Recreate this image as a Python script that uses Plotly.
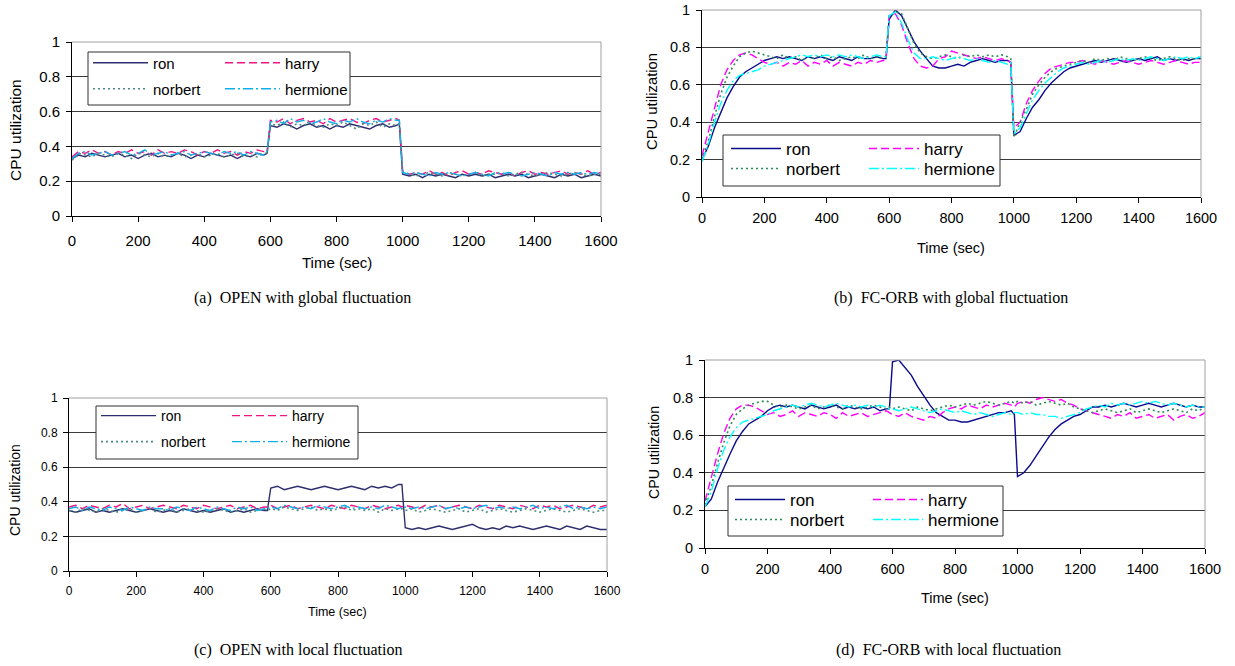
import plotly.graph_objects as go

# ---------------- data (CPU utilization in percent) ----------------
T = list(range(0, 600, 20)) + [590] + list(range(600, 1000, 20)) + [990] + list(range(1000, 1601, 20))

NAMES = ["ron", "harry", "norbert", "hermione"]

# (a) OPEN with global fluctuation
a_ron = [33,35,34,36,35,34,35,36,34,35,33,35,36,34,35,34,36,35,33,35,34,36,35,34,35,33,35,34,36,35] + [36] + \
        [52,51,53,52,50,52,53,51,52,50,52,51,53,52,51,50,52,53,51,52] + [53] + \
        [24,23,24,22,24,23,24,23,22,24,23,24,23,24,22,23,24,23,24,22,23,24,23,22,24,23,24,22,23,24,23]
a_harry = [34,37,36,38,36,37,35,37,36,38,36,37,35,38,36,37,36,38,37,35,37,36,38,36,37,35,37,36,38,37] + [37] + \
          [55,54,56,53,55,56,54,55,53,56,54,55,56,54,53,55,56,54,55,56] + [55] + \
          [26,24,25,24,26,24,25,23,25,26,24,25,24,26,25,24,25,23,25,26,24,25,24,25,26,24,25,24,26,24,25]
a_norbert = [32,36,35,34,36,35,34,36,35,33,36,35,34,36,34,35,36,34,35,36,34,35,36,34,35,36,34,35,34,36] + [36] + \
            [53,52,54,51,53,52,54,52,51,53,52,54,52,50,53,52,54,51,53,52] + [53] + \
            [25,24,23,24,25,24,23,25,24,23,24,25,23,24,24,25,23,24,25,24,23,24,25,24,23,24,25,24,23,24,24]
a_hermione = [33,36,37,35,36,37,35,36,37,35,36,38,35,36,37,35,36,37,35,36,37,36,35,37,36,37,35,37,36,35] + [37] + \
             [54,55,53,56,54,55,53,54,56,54,53,55,54,56,54,53,55,54,56,55] + [55] + \
             [25,24,25,24,23,25,24,25,24,23,24,25,24,23,25,24,25,24,23,24,25,24,23,25,24,25,24,25,24,25,24]

# (b) FC-ORB with global fluctuation
b_ron = [20,27,37,45,53,59,64,67,69,71,73,74,75,74,75,74,73,75,74,75,74,73,75,74,73,75,74,74,75,74] + [74] + \
        [95,100,97,90,83,78,74,70,69,69,70,71,70,72,73,74,73,72,73,73] + [72] + \
        [33,35,42,48,52,57,61,64,67,69,70,71,72,73,72,73,74,73,72,73,74,73,74,75,73,74,73,74,73,74,74]
b_harry = [22,35,48,60,68,73,76,77,76,74,72,71,72,70,72,71,73,70,72,71,73,70,72,71,70,72,71,73,72,73] + [73] + \
          [97,98,92,82,74,70,69,70,74,75,78,77,76,75,74,75,74,73,74,73] + [72] + \
          [37,40,50,57,62,66,69,70,71,72,72,73,72,71,73,72,71,72,73,72,71,72,73,72,71,72,73,72,71,72,72]
b_norbert = [20,30,43,55,64,70,75,77,78,77,76,75,74,76,74,75,73,75,74,76,74,75,73,74,75,74,76,74,75,74] + [75] + \
            [96,99,98,90,82,77,75,74,75,76,75,74,76,75,76,75,76,75,76,75] + [74] + \
            [32,40,47,55,60,64,67,69,70,71,72,73,72,74,73,74,73,75,74,73,74,75,74,73,74,75,74,73,74,74,75]
b_hermione = [19,28,40,50,57,62,65,66,67,68,70,71,72,73,74,75,76,75,76,75,76,75,76,75,76,75,74,75,76,75] + [75] + \
             [97,99,93,84,77,74,74,75,74,73,74,75,74,73,74,73,72,73,72,71] + [72] + \
             [34,37,45,52,57,61,64,67,69,70,71,72,71,72,73,72,73,74,73,74,73,74,75,74,73,74,75,74,75,74,75]

# (c) OPEN with local fluctuation
c_ron = [35,34,35,36,34,35,34,35,36,35,34,35,36,35,34,35,34,36,35,34,35,34,35,36,34,35,34,35,36,35] + [35] + \
        [48,49,47,48,49,48,47,48,49,48,47,48,49,48,47,49,48,49,48,50] + [50] + \
        [25,24,25,24,25,26,25,24,25,26,27,25,24,25,24,26,25,26,25,24,25,26,25,24,26,25,24,26,25,24,24]
c_harry = [37,38,36,38,37,36,38,37,39,36,37,38,36,37,38,37,36,38,37,36,38,37,36,37,38,36,37,38,36,37] + [37] + \
          [38,36,37,38,36,37,38,37,36,38,37,36,38,37,36,38,37,36,37,38] + [37] + \
          [38,37,36,38,37,38,36,37,38,37,36,38,37,36,38,37,36,38,37,36,38,37,38,36,37,38,37,36,38,37,38]
c_norbert = [35,34,36,35,34,36,35,34,35,36,34,35,36,34,35,36,34,35,36,35,34,35,36,35,34,35,36,34,35,36] + [35] + \
            [36,35,37,36,35,36,37,35,36,35,36,37,35,36,35,36,34,36,35,36] + [36] + \
            [35,36,34,35,36,35,34,35,36,34,35,36,34,35,36,35,34,35,36,35,34,35,36,35,34,35,36,35,34,35,35]
c_hermione = [36,37,35,37,36,35,37,36,35,37,36,35,37,36,36,35,37,36,35,37,36,35,37,36,35,37,36,37,35,36] + [36] + \
             [37,36,38,37,36,37,36,38,37,36,37,38,36,37,36,37,36,38,37,36] + [37] + \
             [37,36,37,36,37,38,36,37,36,37,36,37,38,36,37,36,37,36,37,38,36,37,36,37,38,36,37,36,37,36,37]

# (d) FC-ORB with local fluctuation
d_ron = [22,26,35,43,50,57,62,66,68,70,73,75,76,75,76,75,74,76,75,74,75,76,74,75,74,75,74,75,73,74] + [74] + \
        [99,100,96,92,86,81,76,72,70,68,68,67,67,68,69,70,71,72,72,73] + [71] + \
        [38,40,44,49,54,59,63,66,68,70,71,73,75,75,76,75,76,77,76,75,76,77,76,75,76,77,76,75,76,75,75]
d_harry = [25,38,50,61,69,74,76,76,75,73,71,72,70,71,73,70,72,71,70,72,71,69,72,70,71,72,70,71,72,73] + [72] + \
          [71,70,72,70,69,68,70,69,72,74,75,74,76,75,74,76,75,76,77,76] + [75] + \
          [77,78,77,79,80,79,78,79,77,76,74,73,72,71,70,69,71,70,72,69,70,71,69,70,71,68,70,71,69,70,72]
d_norbert = [23,33,45,56,65,71,74,76,77,78,78,76,75,76,75,74,75,76,74,75,76,75,74,76,75,74,75,76,75,74] + [75] + \
            [74,75,74,73,75,74,73,74,75,76,75,76,77,76,77,78,77,76,77,78] + [77] + \
            [78,77,78,76,77,78,77,76,77,75,74,73,72,73,74,73,72,73,74,72,73,74,73,72,73,74,73,72,74,73,75]
d_hermione = [22,30,42,52,59,64,67,68,69,70,71,73,74,75,76,75,76,77,76,75,76,77,76,75,76,75,76,75,76,75] + [74] + \
             [74,73,74,75,74,73,72,73,74,73,72,73,72,71,72,71,70,71,72,71] + [72] + \
             [72,71,72,71,71,70,70,69,70,71,72,74,75,76,75,77,76,77,76,77,78,77,78,77,76,77,76,75,76,75,75]

SERIES = {
    "a": [a_ron, a_harry, a_norbert, a_hermione],
    "b": [b_ron, b_harry, b_norbert, b_hermione],
    "c": [c_ron, c_harry, c_norbert, c_hermione],
    "d": [d_ron, d_harry, d_norbert, d_hermione],
}
for k, lst in SERIES.items():
    for s in lst:
        assert len(s) == len(T), (k, len(s))

X_TICKS = [0, 200, 400, 600, 800, 1000, 1200, 1400, 1600]
Y_TICKS = [0, 0.2, 0.4, 0.6, 0.8, 1]
Y_TICKTEXT = ["0", "0.2", "0.4", "0.6", "0.8", "1"]
X_TITLE = "Time (sec)"
Y_TITLE = "CPU utilization"
CAPTIONS = {
    "a": "(a)  OPEN with global fluctuation",
    "b": "(b)  FC-ORB with global fluctuation",
    "c": "(c)  OPEN with local fluctuation",
    "d": "(d)  FC-ORB with local fluctuation",
}

# ---------------- styling ----------------
W, H = 1235, 666
OFF = 0  # body margin is removed below, so page pixels == figure pixels
SANS = "Liberation Sans, Arial, sans-serif"
SERIF = "Liberation Serif, Times New Roman, serif"

COLORS_OPEN = ["#2E2E6E", "#F01482", "#4F8A84", "#12AEEA"]
COLORS_FC = ["#0A0A8C", "#FF00FF", "#2E8B57", "#00FFFF"]
DASHES = ["solid", "8px,4px", "2px,3px", "10px,3px,2px,3px"]

def fx(x):
    return (x - OFF) / W

def fy(y):
    return 1 - (y - OFF) / H

# pixel geometry of each panel (page pixels)
P = {
    "a": dict(x0=72, x1=601, y0=42, y1=216, tick=15, lfont=15, ystand=3, xstand=6,
              xt=(337, 262, 15), yt=(16, 130, 15.5),
              cap=(302, 298), colors=COLORS_OPEN, iw=55,
              box=(88, 52, 350, 105), cols=(153, 285), rows=(63, 89)),
    "b": dict(x0=702, x1=1201, y0=10, y1=197, tick=14.5, lfont=17, ystand=3, xstand=3,
              xt=(951, 248, 14.5), yt=(652, 102, 14.8),
              cap=(951, 298), colors=COLORS_FC, iw=50,
              box=(723, 135, 1000, 186), cols=(786, 924), rows=(149, 169)),
    "c": dict(x0=69, x1=607, y0=398, y1=571, tick=12, lfont=14, ystand=3, xstand=4,
              xt=(337, 612, 12.5), yt=(15, 490, 14),
              cap=(298, 650), colors=COLORS_OPEN, iw=55,
              box=(96, 406, 358, 459), cols=(161, 292), rows=(416, 442)),
    "d": dict(x0=705, x1=1205, y0=360, y1=548, tick=14.5, lfont=17, ystand=3, xstand=3,
              xt=(955, 598, 14.5), yt=(654, 453, 14.2),
              cap=(948, 650), colors=COLORS_FC, iw=50,
              box=(728, 486, 1003, 536), cols=(790, 928), rows=(500, 520)),
}

fig = go.Figure()
layout = dict(width=W, height=H, margin=dict(l=0, r=0, t=0, b=0, autoexpand=False),
              paper_bgcolor="white", plot_bgcolor="white", showlegend=True)
shapes, annotations = [], []
leg_idx = 0

for i, key in enumerate(["a", "b", "c", "d"]):
    p = P[key]
    n = "" if i == 0 else str(i + 1)
    xid, yid = "x" + n, "y" + n
    layout["xaxis" + n] = dict(
        domain=[fx(p["x0"]), fx(p["x1"])], anchor=yid, range=[0, 1600],
        tickvals=X_TICKS, ticks="outside", ticklen=5, tickcolor="black",
        showline=True, linecolor="black", linewidth=1, showgrid=False, zeroline=False,
        tickfont=dict(family=SANS, size=p["tick"], color="black"),
        ticklabelstandoff=p["xstand"], automargin=False, ticklabeloverflow="allow",
    )
    layout["yaxis" + n] = dict(
        domain=[fy(p["y1"]), fy(p["y0"])], anchor=xid, range=[0, 1],
        tickvals=Y_TICKS, ticktext=Y_TICKTEXT, ticks="outside", ticklen=5, tickcolor="black",
        showline=True, linecolor="black", linewidth=1, showgrid=True, gridcolor="#3A3A3A",
        gridwidth=1, zeroline=False, automargin=False, ticklabeloverflow="allow",
        tickfont=dict(family=SANS, size=p["tick"], color="black"),
        ticklabelstandoff=p["ystand"],
    )
    # axis titles
    annotations.append(dict(text=X_TITLE, xref="paper", yref="paper", x=fx(p["xt"][0]), y=fy(p["xt"][1]),
                            xanchor="center", yanchor="middle", showarrow=False,
                            font=dict(family=SANS, size=p["xt"][2], color="black")))
    annotations.append(dict(text=Y_TITLE, xref="paper", yref="paper", x=fx(p["yt"][0]), y=fy(p["yt"][1]),
                            xanchor="center", yanchor="middle", showarrow=False, textangle=-90,
                            font=dict(family=SANS, size=p["yt"][2], color="black")))
    # gray frame (top & right)
    shapes.append(dict(type="line", xref=xid + " domain", yref=yid + " domain", x0=0, x1=1, y0=1, y1=1,
                       line=dict(color="#A0A0A0", width=1), layer="above"))
    shapes.append(dict(type="line", xref=xid + " domain", yref=yid + " domain", x0=1, x1=1, y0=0, y1=1,
                       line=dict(color="#A0A0A0", width=1), layer="above"))
    # legend box
    bx0, by0, bx1, by1 = p["box"]
    shapes.append(dict(type="rect", xref="paper", yref="paper", x0=fx(bx0), x1=fx(bx1), y0=fy(by1), y1=fy(by0),
                       fillcolor="white", line=dict(color="#303030", width=1), layer="above"))
    annotations.append(dict(text=CAPTIONS[key], xref="paper", yref="paper", x=fx(p["cap"][0]), y=fy(p["cap"][1]),
                            xanchor="center", yanchor="middle", showarrow=False,
                            font=dict(family=SERIF, size=16, color="black")))

    for j, name in enumerate(NAMES):
        vals = [v / 100 for v in SERIES[key][j]]
        leg_idx += 1
        lname = "legend" if leg_idx == 1 else "legend%d" % leg_idx
        col = p["cols"][j % 2]
        row = p["rows"][j // 2]
        layout[lname] = dict(x=fx(col - 10 - p["iw"]), y=fy(row), xanchor="left", yanchor="middle",
                             bgcolor="rgba(0,0,0,0)", borderwidth=0, itemwidth=p["iw"],
                             font=dict(family=SANS, size=p["lfont"], color="black"))
        fig.add_trace(go.Scatter(
            x=T, y=vals, mode="lines", name=name, xaxis=xid, yaxis=yid, legend=lname,
            line=dict(color=p["colors"][j], width=1.4 if j != 2 else 1.6, dash=DASHES[j]),
        ))

layout["shapes"] = shapes
layout["annotations"] = annotations
fig.update_layout(**layout)
fig.write_html("out.html", config={"displayModeBar": False},
               post_script="document.body.style.margin='0px';")
